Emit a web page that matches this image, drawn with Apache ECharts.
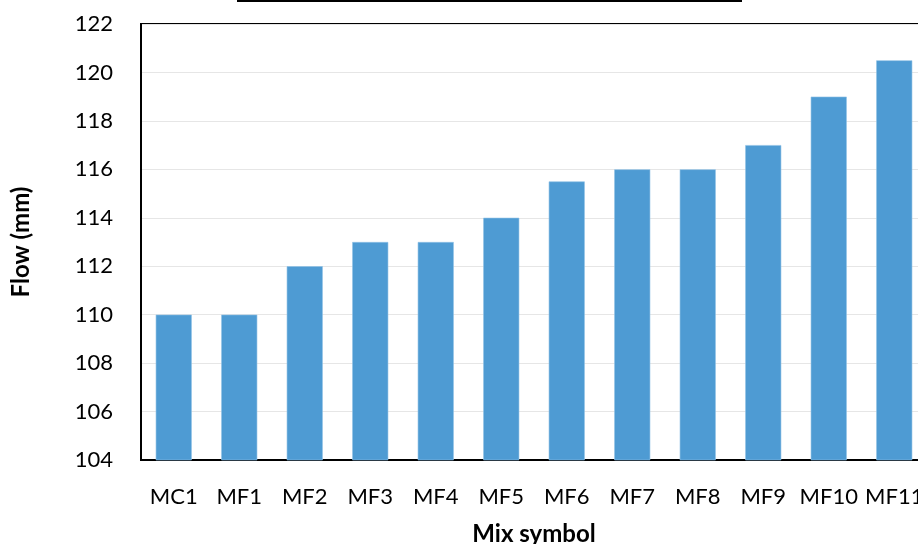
<!DOCTYPE html>
<html>
<head>
<meta charset="utf-8">
<script src="https://cdn.jsdelivr.net/npm/echarts@6/dist/echarts.min.js"></script>
<style>
  html, body { margin: 0; padding: 0; background: #fff; }
  #chart { width: 918px; height: 544px; }
</style>
</head>
<body>
<div id="chart"></div>
<script>
// Flow (mm) per mix
const categories = ['MC1', 'MF1', 'MF2', 'MF3', 'MF4', 'MF5', 'MF6', 'MF7', 'MF8', 'MF9', 'MF10', 'MF11'];
const flowValues = [110, 110, 112, 113, 113, 114, 115.5, 116, 116, 117, 119, 120.5];
const yMin = 104;
const yMax = 122;
const yStep = 2;

const chart = echarts.init(document.getElementById('chart'), null, { renderer: 'canvas' });
const font = 'Lato, "Open Sans", sans-serif';

chart.setOption({
  animation: false,
  backgroundColor: '#ffffff',
  grid: {
    left: 141,
    top: 24,
    width: 786,
    height: 436,
    outerBoundsMode: 'none',
    containLabel: false,
    show: true,
    borderColor: '#000',
    borderWidth: 2,
    backgroundColor: 'transparent'
  },
  graphic: [
    {
      type: 'line',
      shape: { x1: 237, y1: 1, x2: 742, y2: 1 },
      style: { stroke: '#000', lineWidth: 2 }
    }
  ],
  xAxis: {
    type: 'category',
    data: categories,
    name: 'Mix symbol',
    nameLocation: 'middle',
    nameGap: 62,
    nameTextStyle: { fontFamily: font, fontWeight: 'bold', fontSize: 24, color: '#000' },
    axisLine: { lineStyle: { color: '#000', width: 2 } },
    axisTick: { show: false },
    axisLabel: { fontFamily: font, fontSize: 22, color: '#000', margin: 26, interval: 0 }
  },
  yAxis: {
    type: 'value',
    min: yMin,
    max: yMax,
    interval: yStep,
    name: 'Flow (mm)',
    nameLocation: 'middle',
    nameGap: 108,
    nameRotate: 90,
    nameTextStyle: { fontFamily: font, fontWeight: 'bold', fontSize: 24, color: '#000' },
    axisLine: { show: true, lineStyle: { color: '#000', width: 2 } },
    axisTick: { show: false },
    axisLabel: { fontFamily: font, fontSize: 22, color: '#000', margin: 28 },
    splitLine: { lineStyle: { color: '#e6e6e6', width: 1 } }
  },
  series: [
    {
      type: 'bar',
      data: flowValues,
      barWidth: '55%',
      itemStyle: { color: '#4e9bd3', borderColor: '#8fc1e6', borderWidth: 0.6 }
    }
  ]
});
</script>
</body>
</html>
